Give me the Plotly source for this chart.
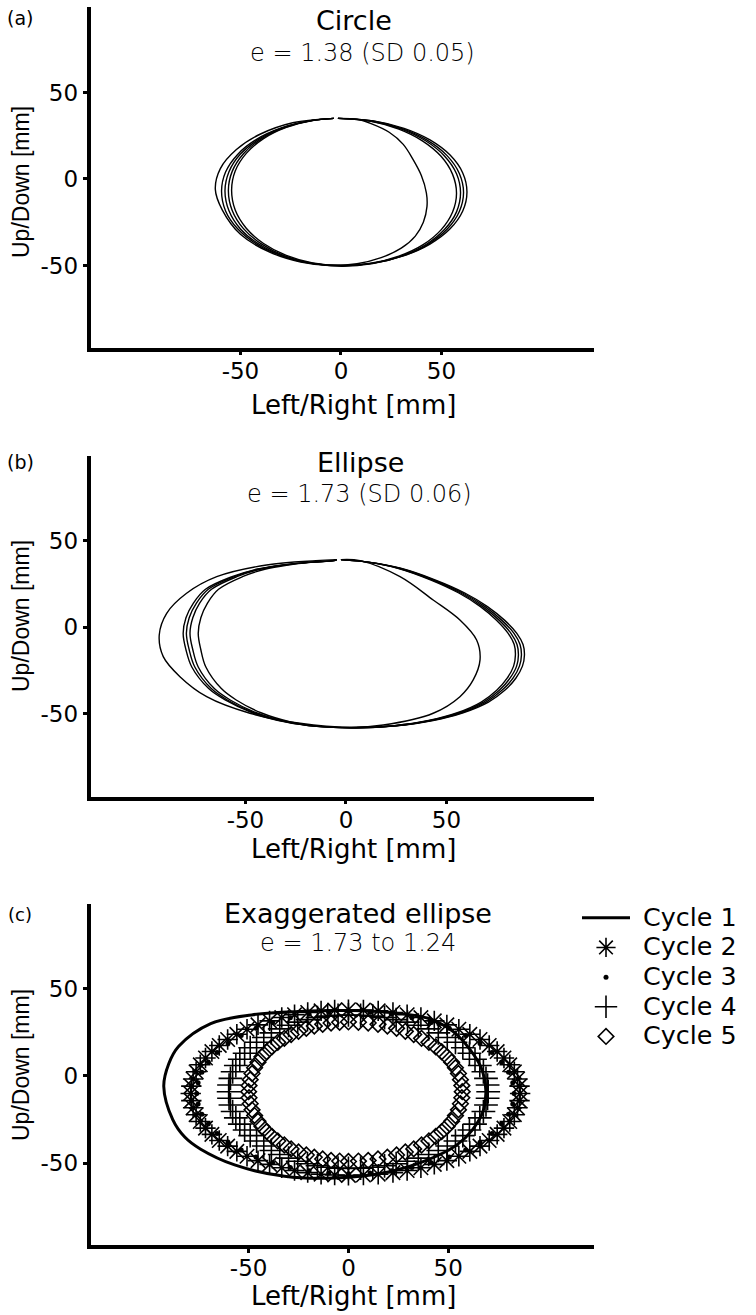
import plotly.graph_objects as go

W, H = 756, 1315
TICKS = [-50, 0, 50]
TICK_TEXT = ["-50", "0", "50"]

# ---------------- Panel (a): Circle ----------------
a_c1_x = [-1.5, 8, 15, 24, 31, 36, 40, 42.5, 42.8, 41, 37, 30, 20, 8, -5, -20, -36, -50, -59, -62.5, -60, -52, -40, -24, -10, -3.5]
a_c1_y = [35, 34.5, 32, 27, 20, 11, 2, -8, -16, -25, -33, -40, -45.5, -49, -50, -48, -42, -32, -18, -6, 6, 17, 26, 32.5, 34.5, 35]
a_c2_x = [-1.5, 16.2, 31.4, 44.3, 54.3, 60.6, 62.7, 60.6, 54.3, 44.3, 31.4, 16.2, 0, -15.4, -29.7, -42.0, -51.4, -57.4, -59.4, -57.4, -51.4, -42.0, -29.7, -15.4, -3.5]
a_c2_y = [35, 33.6, 29.3, 22.6, 13.8, 3.5, -7.5, -18.5, -28.8, -37.6, -44.3, -48.6, -50, -48.6, -44.3, -37.6, -28.8, -18.5, -7.0, 4.0, 14.2, 22.9, 29.5, 33.6, 35]
a_c3_x = [-1.5, 15.8, 30.5, 43.1, 52.8, 58.9, 61.0, 58.9, 52.8, 43.1, 30.5, 15.8, 0.5, -14.9, -28.9, -40.8, -50.0, -55.7, -57.7, -55.7, -50.0, -40.8, -28.9, -14.9, -3.5]
a_c3_y = [35, 33.5, 29.1, 22.3, 13.5, 3.2, -7.8, -18.8, -29.1, -37.9, -44.6, -48.9, -50.4, -48.8, -44.5, -37.7, -28.9, -18.4, -6.8, 4.2, 14.4, 23.0, 29.6, 33.7, 35]
a_c4_x = [-1.5, 15.4, 29.8, 42.1, 51.5, 57.5, 59.5, 57.5, 51.5, 42.1, 29.8, 15.4, 1.0, -14.5, -28.0, -39.6, -48.5, -54.1, -56.0, -54.1, -48.5, -39.6, -28.0, -14.5, -3.5]
a_c4_y = [35, 33.4, 29.0, 22.1, 13.3, 3.0, -8.0, -19.0, -29.2, -38.0, -44.6, -48.8, -50.2, -48.7, -44.4, -37.5, -28.7, -18.2, -6.6, 4.4, 14.6, 23.2, 29.7, 33.8, 35]
a_c5_x = [-1.5, 14.9, 28.8, 40.7, 49.8, 55.5, 57.5, 55.5, 49.8, 40.7, 28.8, 14.9, 1.0, -14.1, -27.2, -38.5, -47.1, -52.6, -54.4, -52.6, -47.1, -38.5, -27.2, -14.1, -3.5]
a_c5_y = [35, 33.3, 28.8, 21.9, 13.1, 2.8, -8.2, -19.2, -29.4, -38.1, -44.6, -48.7, -50.0, -48.5, -44.2, -37.3, -28.5, -18.0, -6.4, 4.6, 14.8, 23.3, 29.8, 33.8, 35]

# ---------------- Panel (b): Ellipse ----------------
b_c1_x = [-2.5, 7, 26.9, 43.4, 56.7, 65, 66.7, 63.3, 56.7, 43.4, 18.6, 2, -22.9, -47.8, -69.3, -82.6, -90.9, -92.9, -89.2, -79.3, -64.3, -39.5, -15, -4.6]
b_c1_y = [39.2, 38.6, 29.3, 15.8, 4.2, -7.4, -18.9, -30.5, -40.2, -49.8, -56.6, -57.9, -55.6, -49.8, -40.2, -28.6, -17, -4.5, 8.1, 19.7, 29.3, 36.1, 38.6, 39.2]
b_y = [39.2, 37.6, 34.2, 27.5, 20, 12, 4, -3.5, -10, -16, -22.5, -29.5, -36.5, -43.3, -49.5, -54, -57, -58.2,
       -57.4, -54.8, -49.5, -42.1, -35.5, -23, -13, -3.5, 5.5, 14, 22, 29.3, 33.6, 36.1, 37.6, 38.6, 39.2]
b_c2_x = [-2.5, 12.1, 27.2, 44.3, 58.9, 70.4, 79.0, 85.0, 88.1, 88.8, 87.8, 84.5, 79.0, 70.9, 58.3, 43.3, 25.2, 5.0,
          -14.8, -30.4, -46.6, -60.1, -68.3, -76.7, -79.6, -81.0, -79.6, -75.9, -69.9, -56.7, -44.6, -31.6, -19.2, -6.4, -4.6]
b_c3_x = [-2.5, 11.9, 26.7, 43.5, 57.9, 69.2, 77.6, 83.6, 86.6, 87.3, 86.3, 83.1, 77.6, 69.7, 57.4, 42.5, 24.7, 4.9,
          -14.5, -29.8, -45.7, -59.0, -67.0, -75.2, -78.0, -79.4, -78.0, -74.4, -68.5, -55.6, -43.7, -31.0, -18.9, -6.3, -4.6]
b_c4_x = [-2.5, 11.7, 26.2, 42.8, 56.9, 68.0, 76.3, 82.1, 85.1, 85.8, 84.9, 81.6, 76.3, 68.5, 56.4, 41.8, 24.3, 4.9,
          -14.2, -29.1, -44.6, -57.6, -65.5, -73.5, -76.2, -77.6, -76.2, -72.8, -66.9, -54.3, -42.7, -30.3, -18.4, -6.1, -4.6]
b_c5_x = [-2.5, 11.5, 25.8, 42.0, 55.9, 66.9, 75.0, 80.7, 83.7, 84.3, 83.4, 80.2, 75.0, 67.3, 55.4, 41.1, 23.9, 4.8,
          -13.4, -27.6, -42.3, -54.6, -62.0, -69.7, -72.2, -73.5, -72.2, -68.9, -63.4, -51.5, -40.4, -28.7, -17.5, -5.8, -4.6]

# ---------------- Panel (c): Exaggerated ellipse ----------------
c_c1_x = [0, 20, 40, 53, 61, 66.4, 68.8, 67.5, 62, 54.3, 40, 20, -7, -32, -57, -74, -82, -88, -92.5, -90, -85, -69, -48.5, -24, -5, 0]
c_c1_y = [37.5, 36.5, 33, 25, 15, 5, -8, -20, -31, -39.5, -48, -55, -58.5, -57.5, -51, -42, -35, -25, -6, 7, 17, 30, 35, 37, 37.5, 37.5]

c_c2_x = [0, 7.5, 14.9, 22.3, 29.4, 36.3, 43, 49.3, 55.3, 60.8, 65.9, 70.5, 74.5, 77.9, 80.8, 83.1, 84.7, 85.7,
          86, 85.7, 84.7, 83.1, 80.8, 77.9, 74.5, 70.5, 65.9, 60.8, 55.3, 49.3, 43, 36.3, 29.4, 22.3, 14.9, 7.5,
          0, -6.9, -13.7, -20.4, -27, -33.4, -39.5, -45.3, -50.8, -55.9, -60.5, -64.7, -68.4, -71.6, -74.2, -76.3, -77.8, -78.7,
          -79, -78.7, -77.8, -76.3, -74.2, -71.6, -68.4, -64.7, -60.5, -55.9, -50.8, -45.3, -39.5, -33.4, -27, -20.4, -13.7, -6.9]
c_c2_y = [38, 37.8, 37.3, 36.4, 35.1, 33.5, 31.6, 29.3, 26.8, 23.9, 20.9, 17.5, 14, 10.3, 6.4, 2.4, -1.7, -5.8,
          -10, -14.1, -18.2, -22.2, -26.1, -29.9, -33.5, -37, -40.2, -43.2, -46, -48.5, -50.7, -52.6, -54.2, -55.4, -56.3, -56.8,
          -57, -56.8, -56.3, -55.4, -54.2, -52.6, -50.7, -48.5, -46, -43.2, -40.2, -37, -33.5, -29.9, -26.1, -22.2, -18.2, -14.1,
          -10, -5.8, -1.7, 2.4, 6.4, 10.3, 14, 17.5, 20.9, 23.9, 26.8, 29.3, 31.6, 33.5, 35.1, 36.4, 37.3, 37.8]
c_c3_x = [0, 10.8, 21.5, 31.8, 41.5, 50.5, 58.7, 65.9, 71.9, 76.7, 80.2, 82.3, 83, 82.3, 80.2, 76.7, 71.9, 65.9, 58.7, 50.5, 41.5, 31.8, 21.5, 10.8,
          0, -9.9, -19.7, -29.1, -38, -46.3, -53.7, -60.3, -65.8, -70.2, -73.4, -75.3, -76, -75.3, -73.4, -70.2, -65.8, -60.3, -53.7, -46.3, -38, -29.1, -19.7, -9.9]
c_c3_y = [37, 36.6, 35.4, 33.4, 30.7, 27.3, 23.2, 18.6, 13.5, 8, 2.2, -3.9, -10, -16, -21.9, -27.6, -33, -38, -42.5, -46.5, -49.8, -52.5, -54.4, -55.6,
          -56, -55.6, -54.4, -52.5, -49.8, -46.5, -42.5, -38, -33, -27.6, -21.9, -16, -10, -3.9, 2.2, 8, 13.5, 18.6, 23.2, 27.3, 30.7, 33.4, 35.4, 36.6]
c_c4_x = [0, 6.1, 12.2, 18.1, 23.9, 29.6, 35, 40.2, 45, 49.5, 53.6, 57.3, 60.6, 63.4, 65.8, 67.6, 68.9, 69.7,
          70, 69.7, 68.9, 67.6, 65.8, 63.4, 60.6, 57.3, 53.6, 49.5, 45, 40.2, 35, 29.6, 23.9, 18.1, 12.2, 6.1,
          0, -5.2, -10.4, -15.5, -20.5, -25.4, -30, -34.4, -38.6, -42.4, -46, -49.2, -52, -54.4, -56.4, -58, -59.1, -59.8,
          -60, -59.8, -59.1, -58, -56.4, -54.4, -52, -49.2, -46, -42.4, -38.6, -34.4, -30, -25.4, -20.5, -15.5, -10.4, -5.2]
c_c4_y = [35, 34.8, 34.3, 33.5, 32.3, 30.9, 29.1, 27, 24.7, 22.1, 19.3, 16.2, 13, 9.6, 6, 2.4, -1.4, -5.2,
          -9, -12.8, -16.6, -20.4, -24, -27.6, -31, -34.2, -37.3, -40.1, -42.7, -45, -47.1, -48.9, -50.3, -51.5, -52.3, -52.8,
          -53, -52.8, -52.3, -51.5, -50.3, -48.9, -47.1, -45, -42.7, -40.1, -37.3, -34.2, -31, -27.6, -24, -20.4, -16.6, -12.8,
          -9, -5.2, -1.4, 2.4, 6, 9.6, 13, 16.2, 19.3, 22.1, 24.7, 27, 29.1, 30.9, 32.3, 33.5, 34.3, 34.8]
c_c5_x = [0, 5, 9.9, 14.8, 19.5, 24.1, 28.5, 32.7, 36.6, 40.3, 43.7, 46.7, 49.4, 51.7, 53.6, 55.1, 56.1, 56.8,
          57, 56.8, 56.1, 55.1, 53.6, 51.7, 49.4, 46.7, 43.7, 40.3, 36.6, 32.7, 28.5, 24.1, 19.5, 14.8, 9.9, 5,
          0, -4.4, -8.7, -12.9, -17.1, -21.1, -25, -28.7, -32.1, -35.4, -38.3, -41, -43.3, -45.3, -47, -48.3, -49.2, -49.8,
          -50, -49.8, -49.2, -48.3, -47, -45.3, -43.3, -41, -38.3, -35.4, -32.1, -28.7, -25, -21.1, -17.1, -12.9, -8.7, -4.4]
c_c5_y = [31, 30.8, 30.4, 29.6, 28.6, 27.3, 25.6, 23.8, 21.6, 19.3, 16.7, 13.9, 11, 7.9, 4.7, 1.4, -2.1, -5.5,
          -9, -12.5, -15.9, -19.4, -22.7, -25.9, -29, -31.9, -34.7, -37.3, -39.6, -41.8, -43.6, -45.3, -46.6, -47.6, -48.4, -48.8,
          -49, -48.8, -48.4, -47.6, -46.6, -45.3, -43.6, -41.8, -39.6, -37.3, -34.7, -31.9, -29, -25.9, -22.7, -19.4, -15.9, -12.5,
          -9, -5.5, -2.1, 1.4, 4.7, 7.9, 11, 13.9, 16.7, 19.3, 21.6, 23.8, 25.6, 27.3, 28.6, 29.6, 30.4, 30.8]

cycle_names = ["Cycle 1", "Cycle 2", "Cycle 3", "Cycle 4", "Cycle 5"]

fig = go.Figure()

FONT = "DejaVu Sans"

def thin_line(x, y, xa, ya):
    fig.add_trace(go.Scatter(x=x, y=y, mode="lines", xaxis=xa, yaxis=ya,
                             line=dict(color="black", width=1.4, shape="spline", smoothing=1.0),
                             showlegend=False, hoverinfo="skip"))

for xs, ys in [(a_c1_x, a_c1_y), (a_c2_x, a_c2_y), (a_c3_x, a_c3_y), (a_c4_x, a_c4_y), (a_c5_x, a_c5_y)]:
    thin_line(xs, ys, "x", "y")
thin_line(b_c1_x, b_c1_y, "x2", "y2")
for xs in [b_c2_x, b_c3_x, b_c4_x, b_c5_x]:
    thin_line(xs, b_y, "x2", "y2")

def lname(n):
    return '<span style="font-size:25.4px">\u00a0' + n + '</span>'

fig.add_trace(go.Scatter(x=c_c1_x, y=c_c1_y, mode="lines", xaxis="x3", yaxis="y3",
                         line=dict(color="black", width=3, shape="spline", smoothing=1.0),
                         name=lname(cycle_names[0])))
fig.add_trace(go.Scatter(x=c_c2_x, y=c_c2_y, mode="markers", xaxis="x3", yaxis="y3",
                         marker=dict(symbol="asterisk-open", size=17, color="black",
                                     line=dict(color="black", width=1.6)),
                         name=lname(cycle_names[1])))
fig.add_trace(go.Scatter(x=c_c3_x, y=c_c3_y, mode="markers", xaxis="x3", yaxis="y3",
                         marker=dict(symbol="circle", size=5, color="black"),
                         name=lname(cycle_names[2])))
fig.add_trace(go.Scatter(x=c_c4_x, y=c_c4_y, mode="markers", xaxis="x3", yaxis="y3",
                         marker=dict(symbol="cross-thin-open", size=17, color="black",
                                     line=dict(color="black", width=1.6)),
                         name=lname(cycle_names[3])))
fig.add_trace(go.Scatter(x=c_c5_x, y=c_c5_y, mode="markers", xaxis="x3", yaxis="y3",
                         marker=dict(symbol="diamond-open", size=12, color="black",
                                     line=dict(color="black", width=1.6)),
                         name=lname(cycle_names[4])))

xdom = [90.5 / W, 594 / W]

def ydom(top, bot):
    return [1 - bot / H, 1 - top / H]

axis_common = dict(showline=True, linewidth=3.5, linecolor="black", showgrid=False, zeroline=False,
                   ticks="outside", ticklen=4, tickwidth=2.5, tickcolor="black",
                   tickmode="array", tickvals=TICKS, ticktext=TICK_TEXT,
                   tickfont=dict(family=FONT, size=23, color="black"),
                   fixedrange=True)
xax = dict(axis_common, ticklabelstandoff=-4)

fig.update_layout(
    width=W, height=H,
    margin=dict(l=0, r=0, t=0, b=0, autoexpand=False),
    paper_bgcolor="white", plot_bgcolor="white",
    xaxis=dict(domain=xdom, range=[-124.6, 125.9], anchor="y", **xax),
    yaxis=dict(domain=ydom(7, 347.5), range=[-97.4, 99.4], anchor="x", **axis_common),
    xaxis2=dict(domain=xdom, range=[-127.1, 123.4], anchor="y2", **xax),
    yaxis2=dict(domain=ydom(456, 796.5), range=[-98.0, 99.2], anchor="x2", **axis_common),
    xaxis3=dict(domain=xdom, range=[-129.2, 123.0], anchor="y3", **xax),
    yaxis3=dict(domain=ydom(904, 1245), range=[-96.9, 98.6], anchor="x3", **axis_common),
    showlegend=True,
    legend=dict(x=577 / W, y=1 - 898 / H, xanchor="left", yanchor="top",
                font=dict(family=FONT, size=20.5, color="black"),
                bgcolor="rgba(0,0,0,0)", borderwidth=0, itemwidth=48,
                tracegroupgap=0, itemclick=False, itemdoubleclick=False),
)

def ann(text, px, py, size, family=FONT, angle=0, weight=None):
    f = dict(family=family, size=size, color="black")
    if weight is not None:
        f["weight"] = weight
    fig.add_annotation(text=text, x=px / W, y=1 - py / H, xref="paper", yref="paper",
                       xanchor="center", yanchor="middle", showarrow=False,
                       textangle=angle, font=f)

# panel labels
ann("(a)", 20, 18, 19)
ann("(b)", 20, 462, 19)
ann("(c)", 20, 915, 18)
# titles and subtitles
ann("Circle", 354, 20, 27)
ann("e = 1.38 (SD 0.05)", 362, 53, 24, weight=200)
ann("Ellipse", 360, 462, 27)
ann("e = 1.73 (SD 0.06)", 359, 494, 24, weight=200)
ann("Exaggerated ellipse", 358, 913, 27)
ann("e = 1.73 to 1.24", 357.5, 943, 24, weight=200)
# axis titles
for cy in (405, 849, 1296):
    ann("Left/Right [mm]", 353, cy, 26)
for cy in (182, 616, 1065):
    ann("Up/Down [mm]", 21, cy, 23, "Liberation Sans", angle=-90)

fig.write_html("out.html", config={"displayModeBar": False})
